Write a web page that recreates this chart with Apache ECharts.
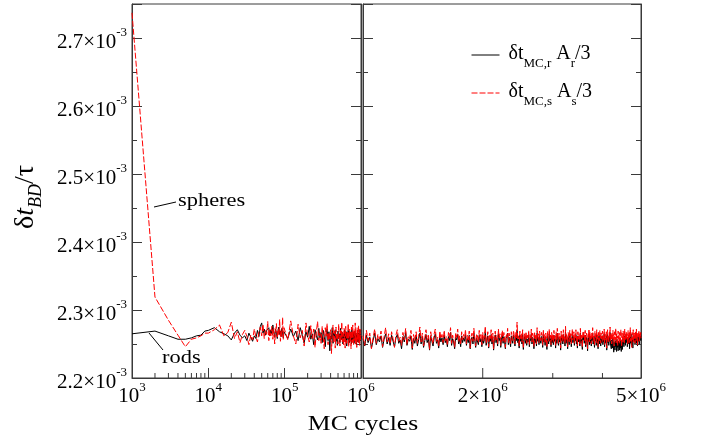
<!DOCTYPE html>
<html><head><meta charset="utf-8">
<script src="https://cdn.jsdelivr.net/npm/echarts@6/dist/echarts.min.js"></script>
<style>html,body{margin:0;padding:0;background:#fff}#c{width:702px;height:442px}</style>
</head><body><div id="c"></div>
<script>
// ---------------- data (values in units of 1e-6) ----------------
const earlyCycles  = [1000,2000,3000,4000,5000,6000,7000,8000,9000];
const rodsEarly    = [2265,2269,2262,2257,2257,2259,2262,2263,2269];
const spheresEarly = [2737,2319,2285,2263,2246,2257,2259,2262,2266];

const MID_START = 10000, MID_STEP = 2000;
const rodsMid = [2270,2274,2268,2265,2262,2256,2266,2271,2263,2259,2262,2255,2266,2260,2254,2262,2258,2270,2261,2276,2281,2266,2272,2263,2270,2268,2274,2262,2271,2265,2278,2268,2260,2272,2266,2258,2270,2275,2264,2269,2261,2273,2265,2259,2268];
const spheresMid = [2266,2271,2278,2262,2267,2282,2258,2268,2252,2264,2270,2261,2249,2263,2256,2272,2260,2253,2268,2275,2262,2279,2258,2271,2264,2283,2255,2270,2262,2276,2257,2273,2250,2269,2280,2259,2272,2263,2286,2254,2270,2261,2289,2257,2274];

const LATE_START = 100000, LATE_STEP = 10000;
const rodsLate = [
2266,2258,2272,2261,2269,2255,2274,2263,2251,2268,
2260,2276,2257,2265,2249,2271,2262,2256,2273,2259,
2267,2252,2270,2261,2246,2264,2272,2255,2268,2240,
2262,2257,2274,2251,2266,2260,2271,2254,2263,2248,
2269,2258,2265,2252,2273,2260,2256,2267,2250,2264,
2259,2271,2253,2262,2268,2247,2265,2257,2270,2255,
2261,2252,2268,2259,2264,2250,2272,2256,2263,2258,
2267,2251,2262,2269,2254,2260,2266,2249,2263,2257,
2270,2253,2261,2266,2252,2264,2258,2271,2255,2262];
const spheresLate = [
2275,2256,2284,2262,2250,2279,2259,2270,2247,2281,
2263,2253,2277,2258,2272,2245,2268,2283,2255,2266,
2251,2276,2260,2243,2274,2262,2280,2249,2267,2256,
2271,2236,2265,2278,2252,2269,2244,2275,2258,2264,
2250,2279,2261,2247,2270,2256,2282,2253,2266,2248,
2273,2259,2244,2276,2262,2251,2269,2257,2280,2246,
2265,2272,2254,2267,2243,2275,2260,2252,2278,2258,
2249,2271,2263,2255,2281,2250,2266,2261,2245,2274,
2257,2269,2252,2277,2259,2264,2248,2272,2256,2263];

const LONG_START = 1000000, LONG_STEP = 10000;
const spheresLong = [
2262,2248,2270,2255,2266,2243,2259,2272,2251,2264,2257,2269,2246,2261,2274,2253,2265,2250,2268,2258,
2245,2263,2271,2254,2260,2248,2267,2256,2273,2249,2262,2258,2270,2244,2264,2255,2268,2251,2261,2275,
2253,2266,2247,2259,2271,2256,2263,2242,2268,2257,2250,2265,2272,2254,2260,2246,2269,2258,2264,2252,
2270,2255,2261,2248,2267,2259,2274,2251,2263,2257,2245,2266,2260,2272,2253,2262,2249,2268,2256,2264,
2258,2271,2250,2263,2256,2269,2244,2261,2266,2254,2273,2259,2247,2265,2262,2252,2270,2257,2264,2249,
2267,2255,2262,2276,2251,2260,2268,2246,2264,2258,2271,2253,2266,2243,2261,2269,2256,2263,2250,2272,
2259,2265,2248,2262,2270,2254,2267,2257,2245,2264,2260,2273,2252,2266,2258,2249,2268,2261,2255,2270,
2263,2250,2267,2259,2282,2256,2262,2247,2269,2258,2265,2253,2271,2244,2260,2266,2255,2268,2251,2263,
2257,2270,2249,2264,2259,2272,2253,2266,2261,2246,2268,2256,2263,2250,2274,2258,2265,2252,2269,2260,
2255,2267,2262,2248,2271,2257,2264,2251,2266,2259,2245,2269,2261,2254,2272,2258,2263,2249,2267,2256,
2264,2252,2270,2258,2262,2247,2268,2255,2273,2260,2251,2266,2257,2263,2244,2269,2259,2265,2253,2271,
2258,2262,2250,2276,2255,2264,2259,2246,2267,2261,2253,2270,2257,2265,2249,2262,2272,2256,2260,2268,
2251,2264,2259,2271,2254,2262,2247,2268,2257,2265,2260,2250,2273,2256,2263,2258,2245,2267,2261,2269,
2255,2263,2270,2249,2261,2266,2257,2243,2264,2259,2272,2253,2268,2256,2262,2250,2266,2260,2274,2254,
2262,2257,2248,2269,2260,2265,2252,2271,2258,2263,2246,2267,2259,2255,2270,2261,2251,2266,2257,2264,
2269,2253,2262,2258,2272,2249,2265,2260,2256,2268,2244,2263,2271,2257,2261,2252,2267,2259,2275,2254,
2260,2266,2250,2263,2257,2270,2255,2264,2247,2268,2261,2256,2273,2252,2265,2259,2262,2248,2269,2258,
2264,2251,2267,2260,2255,2271,2258,2246,2266,2262,2253,2269,2257,2264,2250,2272,2259,2263,2255,2268,
2257,2265,2261,2249,2270,2256,2263,2252,2268,2260,2274,2254,2262,2258,2245,2267,2261,2256,2271,2253,
2263,2258,2266,2251,2269,2260,2255,2272,2257,2264,2248,2266,2262,2259,2270,2254,2265,2258,2261,2267,
2259];
const rodsLong = [
2258,2247,2263,2252,2260,2244,2255,2266,2249,2258,2253,2262,2245,2257,2265,2250,2259,2248,2263,2254,
2246,2259,2264,2251,2256,2243,2261,2253,2267,2248,2257,2254,2262,2242,2258,2251,2263,2247,2256,2266,
2250,2261,2245,2255,2264,2252,2258,2241,2262,2254,2247,2259,2265,2251,2256,2244,2262,2253,2259,2249,
2263,2252,2257,2246,2261,2255,2267,2248,2258,2253,2243,2260,2256,2264,2250,2257,2246,2262,2252,2259,
2254,2264,2248,2258,2252,2263,2243,2256,2260,2250,2266,2255,2245,2259,2257,2249,2263,2253,2258,2246,
2261,2251,2257,2268,2248,2255,2262,2244,2258,2254,2264,2250,2260,2241,2256,2263,2252,2258,2247,2265,
2255,2259,2245,2257,2264,2251,2261,2253,2243,2258,2256,2266,2249,2260,2254,2246,2262,2256,2251,2263,
2258,2247,2261,2255,2270,2252,2257,2244,2263,2254,2259,2250,2264,2242,2256,2261,2251,2262,2248,2257,
2253,2263,2246,2258,2255,2265,2250,2260,2256,2243,2262,2252,2257,2247,2266,2254,2259,2249,2262,2255,
2251,2261,2257,2245,2264,2253,2258,2248,2260,2255,2242,2262,2256,2250,2265,2254,2258,2246,2261,2252,
2259,2249,2263,2254,2257,2244,2262,2251,2266,2255,2248,2260,2253,2258,2241,2262,2255,2259,2250,2264,
2254,2257,2247,2268,2251,2258,2255,2243,2261,2256,2249,2263,2253,2259,2246,2257,2265,2252,2255,2261,
2248,2258,2255,2264,2250,2257,2244,2262,2253,2259,2256,2247,2266,2252,2257,2254,2242,2261,2256,2262,
2251,2257,2263,2246,2256,2260,2252,2240,2258,2254,2265,2249,2261,2252,2256,2247,2260,2255,2266,2250,
2257,2252,2245,2262,2255,2259,2248,2264,2253,2257,2243,2261,2254,2250,2263,2256,2247,2260,2252,2258,
2262,2249,2256,2253,2265,2246,2259,2255,2251,2262,2241,2257,2264,2252,2256,2248,2261,2254,2267,2250,
2252,2243,2256,2248,2244,2259,2247,2238,2253,2249,2241,2255,2246,2251,2239,2257,2245,2250,2240,2254,
2246,2253,2241,2249,2244,2256,2239,2251,2247,2242,2258,2250,2253,2246,2262,2251,2256,2248,2264,2252,
2255,2260,2246,2257,2252,2263,2250,2258,2243,2261,2256,2251,2265,2248,2259,2254,2257,2244,2262,2253,
2259,2254,2262,2249,2257,2253,2266,2251,2258,2255,2247,2261,2257,2254,2263,2250,2259,2255,2258,2262,
2255];

// axis ticks / labels
const Y_MIN = 0.0022, Y_MAX = 0.00275, Y_STEP = 0.0001, Y_EXP = -3;
const xLeftMin = 1e3, xLeftMax = 1e6;
const xRightMin = 1e6, xRightMax = 5e6;
const xLeftMinorTicks = [2000,3000,4000,5000,6000,7000,8000,9000,
  20000,30000,40000,50000,60000,70000,80000,90000,
  200000,300000,400000,500000,600000,700000,800000,900000];
const xRightTickValues = [2e6, 3e6, 4e6];
const xRightTickMajor  = [1, 0, 0];
const xRightLabelValues = [2e6, 5e6];
const xRightLabelMantissa = ['2', '5'];
const xRightLabelExp = 6;

// ---------------- build ----------------
const seq = (start, step, n) => Array.from({length: n}, (_, i) => start + i * step);
const midCycles  = seq(MID_START, MID_STEP, rodsMid.length);
const lateCycles = seq(LATE_START, LATE_STEP, rodsLate.length);
const longCycles = seq(LONG_START, LONG_STEP, rodsLong.length);
const pairs = (xs, vs) => xs.map((x, i) => [x, vs[i] * 1e-6]);
const leftX = earlyCycles.concat(midCycles, lateCycles, [longCycles[0]]);
const leftRods = pairs(leftX, rodsEarly.concat(rodsMid, rodsLate, [rodsLong[0]]));
const leftSpheres = pairs(leftX, spheresEarly.concat(spheresMid, spheresLate, [spheresLong[0]]));
const rightRods = pairs(longCycles, rodsLong);
const rightSpheres = pairs(longCycles, spheresLong);

const FONT = 'Liberation Serif';
const AXIS_COLOR = '#3a3a3a';
const MAJOR_LEN = 10, MINOR_LEN = 5;
const RICH = {
  m: {fontFamily: FONT, fontSize: 21, color: '#000', lineHeight: 23, padding: [5, 0, 0, 0], verticalAlign: 'top'},
  e: {fontFamily: FONT, fontSize: 13, color: '#000', lineHeight: 13, verticalAlign: 'top'}
};
const RED_DASH = [6, 2];

const chart = echarts.init(document.getElementById('c'), null, {renderer: 'canvas', width: 702, height: 442});

function yAxisCfg(gridIndex, position, showLabel) {
  return {
    type: 'value', gridIndex, position, min: Y_MIN, max: Y_MAX, interval: Y_STEP,
    axisLine: {show: true, lineStyle: {color: AXIS_COLOR, width: 1}},
    axisTick: {show: true, inside: true, length: MAJOR_LEN, lineStyle: {color: AXIS_COLOR, width: 1}},
    minorTick: {show: true, splitNumber: 2, length: MINOR_LEN, lineStyle: {color: AXIS_COLOR, width: 1}},
    splitLine: {show: false}, minorSplitLine: {show: false},
    axisLabel: showLabel ? {
      show: true, margin: 5, showMaxLabel: false, showMinLabel: true,
      formatter: v => `{m|${(v * 1e3).toFixed(1)}×10}{e|${Y_EXP}}`, rich: RICH
    } : {show: false},
    name: showLabel ? '{d|δ}{t|t}{b|BD}{z|/τ}' : '',
    nameLocation: 'middle', nameRotate: 90, nameGap: 90,
    nameTextStyle: {rich: {
      d: {fontFamily: FONT, fontSize: 28, color: '#000', lineHeight: 30, verticalAlign: 'top'},
      z: {fontFamily: FONT, fontSize: 28, color: '#000', lineHeight: 30, verticalAlign: 'top', padding: [0, 12, 0, 0]},
      t: {fontFamily: FONT, fontSize: 28, fontStyle: 'italic', color: '#000', lineHeight: 30, verticalAlign: 'top'},
      b: {fontFamily: FONT, fontSize: 18, fontStyle: 'italic', color: '#000', lineHeight: 18, padding: [15, 0, 0, 0], verticalAlign: 'top'}
    }}
  };
}

function renderXTick(params, api) {
  const p = api.coord([api.value(0), Y_MIN]);
  const len = api.value(1) ? MAJOR_LEN : MINOR_LEN;
  return {type: 'line', shape: {x1: p[0], y1: p[1], x2: p[0], y2: p[1] - len},
          style: {stroke: AXIS_COLOR, lineWidth: 1}};
}
function renderXLabel(params, api) {
  const p = api.coord([api.value(0), Y_MIN]);
  return {type: 'text', x: p[0], y: p[1] + 3,
    style: {text: `{m|${xRightLabelMantissa[params.dataIndex]}×10}{e|${xRightLabelExp}}`,
            rich: RICH, align: 'center', verticalAlign: 'top'}};
}

const option = {
  animation: false,
  backgroundColor: '#fff',
  grid: [
    {left: 132, top: 4, width: 229, height: 374, show: true, borderColor: AXIS_COLOR, borderWidth: 1, backgroundColor: 'transparent', outerBoundsMode: 'none'},
    {left: 363, top: 4, width: 278, height: 374, show: true, borderColor: AXIS_COLOR, borderWidth: 1, backgroundColor: 'transparent', outerBoundsMode: 'none'}
  ],
  xAxis: [
    {type: 'log', logBase: 10, gridIndex: 0, min: xLeftMin, max: xLeftMax, position: 'bottom',
     axisLine: {show: true, lineStyle: {color: AXIS_COLOR, width: 1}},
     axisTick: {show: true, inside: true, length: MAJOR_LEN, lineStyle: {color: AXIS_COLOR}},
     minorTick: {show: false}, splitLine: {show: false}, minorSplitLine: {show: false},
     axisLabel: {show: true, margin: 3, showMinLabel: true, showMaxLabel: true, hideOverlap: false,
       formatter: v => `{m|10}{e|${Math.round(Math.log10(v))}}`, rich: RICH}},
    {type: 'log', logBase: 10, gridIndex: 1, min: xRightMin, max: xRightMax, position: 'bottom',
     axisLine: {show: true, lineStyle: {color: AXIS_COLOR, width: 1}},
     axisTick: {show: false}, minorTick: {show: false}, splitLine: {show: false}, minorSplitLine: {show: false},
     axisLabel: {show: false}}
  ],
  yAxis: [
    yAxisCfg(0, 'left', true), yAxisCfg(0, 'right', false),
    yAxisCfg(1, 'left', false), yAxisCfg(1, 'right', false)
  ],
  legend: {
    orient: 'vertical', left: 471, top: 44, padding: 0, itemWidth: 28, itemHeight: 14, itemGap: 12,
    selectedMode: false, data: ['rods', 'spheres'],
    itemStyle: {opacity: 0},
    lineStyle: {width: 1},
    formatter: n => n === 'rods'
      ? '{p| }{m|δt}{s|MC,r}{m| A}{s|r}{m|/3}'
      : '{p| }{m|δt}{s|MC,s}{m| A}{s|s}{m|/3}',
    textStyle: {rich: {
      p: {width: 4, fontSize: 10},
      m: {fontFamily: FONT, fontSize: 20, color: '#000', lineHeight: 22, verticalAlign: 'top'},
      s: {fontFamily: FONT, fontSize: 13, color: '#000', lineHeight: 13, padding: [13, 0, 0, 0], verticalAlign: 'top'}
    }}
  },
  graphic: [
    {type: 'text', x: 363, y: 424, scaleX: 1.22, style: {text: 'MC cycles', font: `21px "${FONT}"`, fill: '#000', align: 'center', verticalAlign: 'middle'}},
    {type: 'text', x: 178, y: 201, scaleX: 1.18, style: {text: 'spheres', font: `19px "${FONT}"`, fill: '#000', align: 'left', verticalAlign: 'middle'}},
    {type: 'line', shape: {x1: 154, y1: 207, x2: 176, y2: 202}, style: {stroke: '#000', lineWidth: 1}},
    {type: 'text', x: 162, y: 358, scaleX: 1.18, style: {text: 'rods', font: `19px "${FONT}"`, fill: '#000', align: 'left', verticalAlign: 'middle'}},
    {type: 'line', shape: {x1: 149, y1: 333, x2: 163, y2: 350}, style: {stroke: '#000', lineWidth: 1}}
  ],
  series: [
    {name: 'rods', type: 'line', xAxisIndex: 0, yAxisIndex: 0, data: leftRods, symbol: 'none', showSymbol: false,
     lineStyle: {color: '#000', width: 1}, itemStyle: {color: '#000'}, z: 2},
    {name: 'spheres', type: 'line', xAxisIndex: 0, yAxisIndex: 0, data: leftSpheres, symbol: 'none', showSymbol: false,
     lineStyle: {color: '#ff0000', width: 1, type: RED_DASH}, itemStyle: {color: '#ff0000'}, z: 3},
    {name: 'rods', type: 'line', xAxisIndex: 1, yAxisIndex: 2, data: rightRods, symbol: 'none', showSymbol: false,
     lineStyle: {color: '#000', width: 1}, itemStyle: {color: '#000'}, z: 2},
    {name: 'spheres', type: 'line', xAxisIndex: 1, yAxisIndex: 2, data: rightSpheres, symbol: 'none', showSymbol: false,
     lineStyle: {color: '#ff0000', width: 1, type: RED_DASH}, itemStyle: {color: '#ff0000'}, z: 3},
    {name: 'xMinorLeft', type: 'custom', xAxisIndex: 0, yAxisIndex: 0, silent: true, z: 5,
     data: xLeftMinorTicks.map(v => [v, 0]), renderItem: renderXTick},
    {name: 'xTicksRight', type: 'custom', xAxisIndex: 1, yAxisIndex: 2, silent: true, z: 5,
     data: xRightTickValues.map((v, i) => [v, xRightTickMajor[i]]), renderItem: renderXTick},
    {name: 'xLabelsRight', type: 'custom', xAxisIndex: 1, yAxisIndex: 2, silent: true, z: 5,
     data: xRightLabelValues.map(v => [v, 0]), renderItem: renderXLabel}
  ]
};
chart.setOption(option);
</script>
</body></html>
